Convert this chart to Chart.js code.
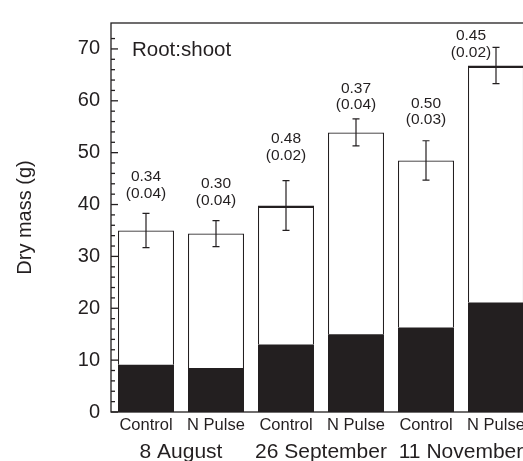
<!DOCTYPE html>
<html lang="en">
<head>
<meta charset="UTF-8">
<title>Dry mass and root:shoot</title>
<script src="https://cdn.jsdelivr.net/npm/chart.js"></script>
<style>
    html, body { margin: 0; padding: 0; background: #fff; overflow: hidden; }
    #wrap { width: 540px; height: 461px; }
</style>
<script>
    // values
    var treatments = ["Control", "N Pulse", "Control", "N Pulse", "Control", "N Pulse"];
    var harvestDates = ["8 August", "26 September", "11 November"];
    var totalMass = [35.0, 34.4, 39.8, 53.9, 48.5, 66.8];
    var totalErr = [3.3, 2.5, 4.8, 2.6, 3.8, 3.5];
    var rootMass = [9.1, 8.5, 13.0, 15.0, 16.3, 21.1];
    var ratioMean = ["0.34", "0.30", "0.48", "0.37", "0.50", "0.45"];
    var ratioSE = ["(0.04)", "(0.04)", "(0.02)", "(0.04)", "(0.03)", "(0.02)"];
    var yTickLabels = [0, 10, 20, 30, 40, 50, 60, 70];
</script>
</head>
<body>
<div id="wrap"><canvas id="mass-chart" width="540" height="461"></canvas></div>

<script>
    var ink = "#231f20";
    var family = "'Liberation Sans', Arial, Helvetica, sans-serif";

    // white part of each bar is the shoot, stacked on the black root
    var shootMass = totalMass.map(function (t, i) { return t - rootMass[i]; });

    // frame, inward ticks, error bars and the ratio labels
    var extras = {
        id: "extras",
        afterDatasetsDraw: function (chart, args, opts) {
            var c = chart.ctx, a = chart.chartArea;
            var xs = chart.scales.x, ys = chart.scales.y;
            c.save();
            c.strokeStyle = ink;
            c.lineWidth = 1.3;
            c.strokeRect(a.left, a.top, a.right - a.left, a.bottom - a.top);

            ys.ticks.forEach(function (t) {
                var y = ys.getPixelForValue(t.value);
                var len = t.value % 10 === 0 ? 7 : 4;
                c.beginPath();
                c.moveTo(a.left, y);
                c.lineTo(a.left + len, y);
                c.stroke();
            });

            c.lineWidth = 1.2;
            totalMass.forEach(function (v, i) {
                var x = xs.getPixelForValue(i);
                var yt = ys.getPixelForValue(v + totalErr[i]);
                var yb = ys.getPixelForValue(v - totalErr[i]);
                c.beginPath();
                c.moveTo(x, yt); c.lineTo(x, yb);
                c.moveTo(x - 3.5, yt); c.lineTo(x + 3.5, yt);
                c.moveTo(x - 3.5, yb); c.lineTo(x + 3.5, yb);
                c.stroke();

                var base = yt - opts.gaps[i];
                var lx = x + opts.shift[i];
                c.fillStyle = ink;
                c.font = "15.5px " + family;
                c.textAlign = "center";
                c.textBaseline = "middle";
                c.fillText(ratioMean[i], lx, base - 16.5);
                c.fillText(ratioSE[i], lx, base);
            });

            c.font = "20.5px " + family;
            c.textAlign = "left";
            c.fillText("Root:shoot", a.left + 21, a.top + 27);
            c.restore();
        }
    };

    new Chart(document.getElementById("mass-chart"), {
        type: "bar",
        data: {
            labels: treatments,
            datasets: [
                {
                    label: "Root",
                    data: rootMass,
                    backgroundColor: ink,
                    borderWidth: 0,
                    barPercentage: 0.8,
                    categoryPercentage: 1.0,
                },
                {
                    label: "Shoot",
                    data: shootMass,
                    backgroundColor: "#fff",
                    borderColor: ink,
                    borderWidth: function (ctx) {
                        var top = (ctx.dataIndex === 2 || ctx.dataIndex === 5) ? 2.5 : 1.2;
                        return { top: top, left: 1.2, right: 1.2, bottom: 0 };
                    },
                    borderSkipped: "bottom",
                    barPercentage: 0.8,
                    categoryPercentage: 1.0,
                },
            ]
        },
        options: {
            responsive: false,
            animation: false,
            layout: { padding: { top: 13, right: 9, left: 0, bottom: 0 } },
            plugins: {
                legend: { display: false },
                tooltip: { enabled: false },
                extras: {
                    gaps: [20, 20, 25, 14, 21, -5],
                    shift: [0, 0, 0, 0, 0, -25],
                },
            },
            scales: {
                x: {
                    stacked: true,
                    grid: { display: false, drawTicks: false },
                    border: { display: false },
                    ticks: {
                        color: ink,
                        font: { family: family, size: 16.5 },
                        padding: 4,
                        maxRotation: 0,
                        autoSkip: false,
                    },
                    afterFit: function (s) { s.height = 25; },
                },
                dates: {
                    type: "category",
                    labels: harvestDates,
                    position: "bottom",
                    weight: 1,
                    offset: true,
                    grid: { display: false, drawTicks: false },
                    border: { display: false },
                    ticks: {
                        color: ink,
                        font: { family: family, size: 21 },
                        padding: 3,
                        maxRotation: 0,
                        autoSkip: false,
                    },
                    afterFit: function (s) { s.height = 24; },
                },
                y: {
                    stacked: true,
                    min: 0,
                    max: 75,
                    grid: { display: false, drawTicks: false },
                    border: { display: false },
                    afterBuildTicks: function (s) {
                        s.ticks = s.ticks.filter(function (t) { return t.value % 2 === 0; });
                    },
                    ticks: {
                        stepSize: 2,
                        color: ink,
                        font: { family: family, size: 20 },
                        padding: 11,
                        autoSkip: false,
                        callback: function (v) { return yTickLabels.indexOf(v) >= 0 ? v : ""; },
                    },
                    title: {
                        display: true,
                        text: "Dry mass (g)",
                        color: ink,
                        font: { family: family, size: 20 },
                        padding: { top: 13, bottom: 0 },
                    },
                    afterFit: function (s) { s.width = 111; },
                },
            }
        },
        plugins: [extras]
    });
</script>
</body>
</html>
